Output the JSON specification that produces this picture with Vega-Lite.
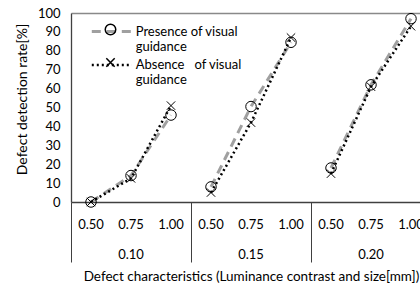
{
  "$schema": "https://vega.github.io/schema/vega-lite/v6.json",
  "width": 360,
  "height": 189,
  "autosize": {"type": "none"},
  "padding": {"left": 71, "top": 13, "right": 0, "bottom": 84},
  "background": "white",
  "config": {
    "view": {"stroke": null},
    "font": "Lato",
    "axis": {"labelFont": "Lato", "titleFont": "Lato", "labelColor": "#000000", "titleColor": "#000000", "titleFontWeight": "normal"},
    "legend": {"labelFont": "Lato", "labelColor": "#000000"}
  },
  "data": {
    "values": [
      {"group": "0.10", "size": "0.50", "cat": "0.10|0.50", "series": "Presence of visual guidance", "value": 0},
      {"group": "0.10", "size": "0.75", "cat": "0.10|0.75", "series": "Presence of visual guidance", "value": 14},
      {"group": "0.10", "size": "1.00", "cat": "0.10|1.00", "series": "Presence of visual guidance", "value": 46},
      {"group": "0.15", "size": "0.50", "cat": "0.15|0.50", "series": "Presence of visual guidance", "value": 8},
      {"group": "0.15", "size": "0.75", "cat": "0.15|0.75", "series": "Presence of visual guidance", "value": 50.5},
      {"group": "0.15", "size": "1.00", "cat": "0.15|1.00", "series": "Presence of visual guidance", "value": 84.5},
      {"group": "0.20", "size": "0.50", "cat": "0.20|0.50", "series": "Presence of visual guidance", "value": 18},
      {"group": "0.20", "size": "0.75", "cat": "0.20|0.75", "series": "Presence of visual guidance", "value": 62},
      {"group": "0.20", "size": "1.00", "cat": "0.20|1.00", "series": "Presence of visual guidance", "value": 97},
      {"group": "0.10", "size": "0.50", "cat": "0.10|0.50", "series": "Absence of visual guidance", "value": 0},
      {"group": "0.10", "size": "0.75", "cat": "0.10|0.75", "series": "Absence of visual guidance", "value": 12.5},
      {"group": "0.10", "size": "1.00", "cat": "0.10|1.00", "series": "Absence of visual guidance", "value": 51},
      {"group": "0.15", "size": "0.50", "cat": "0.15|0.50", "series": "Absence of visual guidance", "value": 5},
      {"group": "0.15", "size": "0.75", "cat": "0.15|0.75", "series": "Absence of visual guidance", "value": 42},
      {"group": "0.15", "size": "1.00", "cat": "0.15|1.00", "series": "Absence of visual guidance", "value": 87},
      {"group": "0.20", "size": "0.50", "cat": "0.20|0.50", "series": "Absence of visual guidance", "value": 15},
      {"group": "0.20", "size": "0.75", "cat": "0.20|0.75", "series": "Absence of visual guidance", "value": 61},
      {"group": "0.20", "size": "1.00", "cat": "0.20|1.00", "series": "Absence of visual guidance", "value": 93}
    ]
  },
  "encoding": {
    "x": {
      "field": "cat", "type": "ordinal",
      "scale": {"type": "band", "paddingInner": 0, "paddingOuter": 0},
      "axis": {
        "title": "Defect characteristics (Luminance contrast and size[mm])",
        "titleFontSize": 13.5, "titlePadding": 7,
        "labelAngle": 0, "labelFontSize": 13, "labelBaseline": "top",
        "labelLineHeight": 30,
        "labelExpr": "split(datum.value,'|')[1] == '0.75' ? [split(datum.value,'|')[1], split(datum.value,'|')[0]] : split(datum.value,'|')[1]",
        "bandPosition": 0,
        "tickSize": 60, "tickWidth": 1,
        "tickColor": {"condition": {"test": "split(datum.value,'|')[1] == '0.50'", "value": "#404040"}, "value": "transparent"},
        "labelPadding": -44,
        "domainColor": "#404040", "domainWidth": 1.3
      }
    },
    "y": {
      "field": "value", "type": "quantitative",
      "scale": {"domain": [0, 100], "nice": false},
      "axis": {
        "title": "Defect detection rate[%]", "titleFontSize": 14, "titlePadding": 8, "titleY": 86,
        "values": [0, 10, 20, 30, 40, 50, 60, 70, 80, 90, 100],
        "labelFontSize": 13, "ticks": false, "labelPadding": 11,
        "domainColor": "#404040", "domainWidth": 1.3,
        "grid": true,
        "gridColor": {"condition": {"test": "datum.value == 100", "value": "#898989"}, "value": "transparent"},
        "gridWidth": 1.3
      }
    }
  },
  "layer": [
    {
      "mark": {"type": "line", "strokeCap": "butt"},
      "encoding": {
        "detail": {"field": "group"},
        "color": {
          "field": "series", "type": "nominal",
          "scale": {"domain": ["Presence of visual guidance", "Absence of visual guidance"], "range": ["#a0a0a0", "#000000"]},
          "legend": {
            "title": null, "orient": "none", "legendX": 32.3, "legendY": 10,
            "symbolType": "M-3,0L3,0", "symbolSize": 178, "labelFontSize": 13,
            "labelLineHeight": 19, "labelOffset": 15.4, "rowPadding": 3, "padding": 0,
            "labelExpr": "indexof(datum.label,'Presence') == 0 ? ['Presence of visual','guidance'] : ['Absence\u00a0\u00a0 of visual','guidance']"
          }
        },
        "strokeDash": {
          "field": "series", "type": "nominal",
          "scale": {"domain": ["Presence of visual guidance", "Absence of visual guidance"], "range": [[9, 6], [2, 3]]}
        },
        "strokeWidth": {
          "field": "series", "type": "nominal",
          "scale": {"domain": ["Presence of visual guidance", "Absence of visual guidance"], "range": [3, 2.5]}
        }
      }
    },
    {
      "mark": {"type": "point", "filled": false, "color": "#000000", "strokeWidth": 1, "opacity": 1, "size": 110},
      "encoding": {
        "shape": {
          "field": "series", "type": "nominal",
          "scale": {"domain": ["Presence of visual guidance", "Absence of visual guidance"], "range": ["circle", "M-0.8,-0.8L0.8,0.8M0.8,-0.8L-0.8,0.8"]},
          "legend": {
            "title": null, "orient": "top-left", "offset": 10, "padding": 0,
            "symbolSize": 110,
            "symbolOffset": 23, "labelFontSize": 13, "labelLineHeight": 19, "labelOffset": 2, "rowPadding": 3,
            "labelColor": "transparent", "symbolStrokeColor": "#000000", "symbolFillColor": "transparent",
            "labelExpr": "indexof(datum.label,'Presence') == 0 ? ['Presence of visual','guidance'] : ['Absence\u00a0\u00a0 of visual','guidance']"
          }
        }
      }
    }
  ]
}
